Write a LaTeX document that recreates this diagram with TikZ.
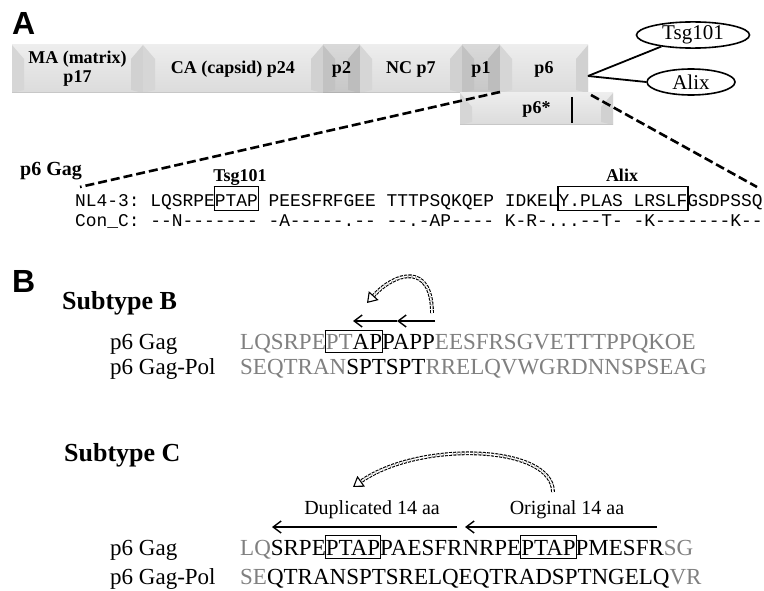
\documentclass[tikz,border=0pt]{standalone}
\usepackage{fontspec}
\setmainfont{Liberation Serif}
\setmonofont{Liberation Mono}
\newfontfamily\panelfont{Liberation Sans}
\usepackage{xcolor}
\usepackage{tikz}
\usetikzlibrary{arrows.meta,positioning,shapes}
\definecolor{seqgray}{gray}{0.5}
\newcommand{\fsz}[1]{\fontsize{#1}{#1}\selectfont}
\newcommand{\gr}[1]{\textcolor{seqgray}{#1}}
% boxed motif that keeps the letters in place
\setlength{\fboxsep}{0pt}
\setlength{\fboxrule}{1.2pt}
\newcommand{\motif}[3]{\kern-\fboxrule\fbox{\rule[-#2]{0pt}{#3}#1}\kern-\fboxrule}

\begin{document}
\begin{tikzpicture}[x=1pt,y=-1pt,
  seg/.style={font=\fontsize{18}{19}\selectfont\bfseries,align=center},
  partner/.style={ellipse,draw,line width=1.6pt,inner sep=0pt,font=\fsz{21}},
  tie/.style={line width=1.8pt},
  zoomline/.style={dash pattern=on 9pt off 4pt,line width=2.6pt},
  aln/.style={anchor=base west,inner sep=0pt,font=\ttfamily\fsz{17.9}},
  seq/.style={anchor=base west,inner sep=0pt,font=\fsz{23}},
  hd/.style={anchor=base west,inner sep=0pt,font=\fsz{26}\bfseries},
  panel/.style={anchor=base west,inner sep=0pt,font=\panelfont\fsz{32}\bfseries},
  span/.style={line width=1.4pt,-{Straight Barb[length=8pt,width=12pt]}},
  jump/.style={double,double distance=1.6pt,dash pattern=on 3pt off 1.2pt,line width=1.1pt,
    -{Triangle[open,length=10pt,width=13pt]}}]
  \useasboundingbox (0,0) rectangle (764,591);

  % Panel A: Gag polyprotein
  \node[panel] (pA) at (12,35) {A};
  \foreach \xa/\xb/\ya/\yb/\shd/\nm/\txt in {
      12/143/45/93/14/ma/{MA (matrix)\\p17},
      143/323/45/93/14/ca/{CA (capsid) p24},
      323/360/45/93/30/ptwo/p2,
      360/462/45/93/14/nc/{NC p7},
      462/500/45/93/30/pone/p1,
      500/588/45/93/14/psix/p6,
      460/613/93/125/14/psixstar/p6*} {
    \shade[top color=gray!\shd,bottom color=gray!\the\numexpr\shd+14\relax]
      (\xa,\ya) rectangle (\xb,\yb);
    \fill[gray!\the\numexpr\shd+18\relax]
      (\xa,\ya) -- (\xa+12,\ya+14) -- (\xa+12,\yb-3) -- (\xa,\yb) -- cycle;
    \fill[gray!\the\numexpr\shd+22\relax]
      (\xb,\ya) -- (\xb-12,\ya+14) -- (\xb-12,\yb-3) -- (\xb,\yb) -- cycle;
    \draw[gray!\the\numexpr\shd+30\relax,line width=1pt] (\xa,\yb) -- (\xb,\yb);
    \node[seg] (\nm) at ({(\xa+\xb)/2},{(\ya+\yb)/2}) {\txt};
  }
  \draw[line width=2pt] (572,97) -- (572,123);

  % binding partners
  \node[partner,minimum width=113pt,minimum height=24pt] (tsg) at (693,35) {Tsg101};
  \node[partner,minimum width=88pt,minimum height=26pt] (alix) at (691,82) {Alix};
  \coordinate (p6r) at (588,76);
  \draw[tie] (p6r) -- (tsg.200);
  \draw[tie] (p6r) -- (alix.west);

  % zoom into p6
  \coordinate (cutL) at (500,92);
  \coordinate (cutR) at (591,95);
  \coordinate (alnL) at (80,187);
  \coordinate (alnR) at (757,187);
  \draw[zoomline] (cutL) -- (alnL);
  \draw[zoomline] (cutR) -- (alnR);

  \node[anchor=base west,inner sep=0pt,font=\fsz{20}\bfseries] (p6lbl) at (20,176) {p6 Gag};
  \node[anchor=base,inner sep=0pt,font=\fsz{18}\bfseries] (tsglbl) at (240,182) {Tsg101};
  \node[anchor=base,inner sep=0pt,font=\fsz{18}\bfseries] (alixlbl) at (622,182) {Alix};
  \node[aln] (nl43) at (75,207)
    {NL4-3: LQSRPE\motif{PTAP}{3pt}{23pt} PEESFRFGEE TTTPSQKQEP IDKEL\motif{Y.PLAS LRSLF}{3pt}{23pt}GSDPSSQ};
  \node[aln] (conc) at (75,227)
    {Con\_C: --N------- -A-----.-- --.-AP---- K-R-...--T- -K-------K--};

  % Panel B: subtype B
  \node[panel] (pB) at (12,292) {B};
  \node[hd] (subB) at (62,309) {Subtype B};
  \node[seq] (bgaglbl) at (110,349) {p6 Gag};
  \node[seq] (bpollbl) at (110,374) {p6 Gag-Pol};
  \node[seq] (bgag) at (240,349)
    {\gr{LQSRPE}\motif{\gr{PT}AP}{3pt}{21pt}PAPP\gr{EESFRSGVETTTPPQKOE}};
  \node[seq] (bpol) at (240,374) {\gr{SEQTRAN}SPTSPT\gr{RRELQVWGRDNNSPSEAG}};
  \coordinate (b1) at (353,321);
  \coordinate (b2) at (397,321);
  \coordinate (b3) at (435,321);
  \draw[span] (b2) -- (b1);
  \draw[span] (b3) -- (b2);
  \coordinate (bj0) at (432,313);
  \coordinate (bj1) at (367,303);
  \draw[jump] (bj0) .. controls (432,262) and (395,272) .. (bj1);

  % Panel C: subtype C
  \node[hd] (subC) at (64,461) {Subtype C};
  \node[seq] (cgaglbl) at (110,555) {p6 Gag};
  \node[seq] (cpollbl) at (110,584) {p6 Gag-Pol};
  \node[seq] (cgag) at (240,555)
    {\gr{LQ}SRPE\motif{PTAP}{3pt}{22pt}PAESFRNRPE\motif{PTAP}{3pt}{22pt}PMESFR\gr{SG}};
  \node[seq] (cpol) at (240,584) {\gr{SE}QTRANSPTSRELQEQTRADSPTNGELQ\gr{VR}};
  \coordinate (d0) at (457,527);
  \coordinate (d1) at (272,527);
  \coordinate (o0) at (657,527);
  \coordinate (o1) at (465,527);
  \draw[span] (d0) -- (d1);
  \draw[span] (o0) -- (o1);
  \node[anchor=base,inner sep=0pt,font=\fsz{20}] (duplbl) at (372,514) {Duplicated 14 aa};
  \node[anchor=base,inner sep=0pt,font=\fsz{20}] (origlbl) at (567,514) {Original 14 aa};
  \coordinate (cj0) at (553,492);
  \coordinate (cj1) at (353,487);
  \draw[jump] (cj0) .. controls (553,445) and (420,440) .. (cj1);
\end{tikzpicture}
\end{document}
